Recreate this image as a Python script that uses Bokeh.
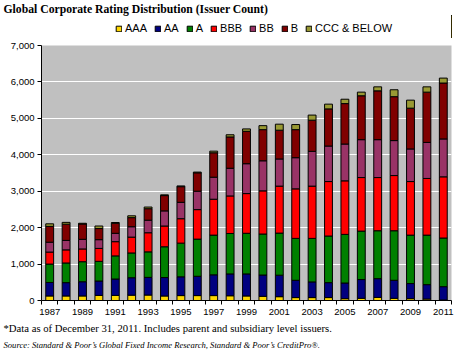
from bokeh.plotting import figure
from bokeh.layouts import column
from bokeh.models import (ColumnDataSource, Range1d, FixedTicker, NumeralTickFormatter,
                          Legend, LegendItem, Title)
from bokeh.embed import file_html
from bokeh.resources import INLINE

years = list(range(1987, 2012))
categories = ["AAA", "AA", "A", "BBB", "BB", "B", "CCC & BELOW"]

aaa = [125, 125, 125, 140, 140, 147, 150, 124, 135, 135, 135, 130, 125, 115, 105, 80, 80, 80, 50, 60, 85, 60, 50, 40, 15]
aa = [370, 365, 390, 395, 450, 478, 485, 506, 515, 530, 570, 600, 605, 585, 590, 475, 430, 410, 430, 515, 515, 495, 415, 395, 365]
a = [505, 540, 550, 540, 635, 680, 700, 845, 925, 1020, 1090, 1110, 1115, 1125, 1155, 1150, 1195, 1280, 1335, 1330, 1315, 1360, 1330, 1360, 1335]
bbb = [330, 360, 350, 355, 390, 435, 525, 570, 670, 810, 985, 1030, 1090, 1185, 1290, 1360, 1435, 1495, 1470, 1470, 1460, 1515, 1470, 1555, 1680]
bb = [270, 260, 265, 240, 230, 285, 345, 415, 450, 505, 605, 760, 820, 825, 745, 855, 955, 975, 1010, 1040, 1040, 960, 895, 990, 1040]
b = [435, 445, 420, 305, 275, 250, 315, 420, 430, 505, 670, 860, 890, 855, 790, 770, 855, 1020, 1110, 1205, 1340, 1205, 1120, 1380, 1535]
ccc = [70, 50, 20, 70, 20, 50, 45, 20, 20, 20, 45, 60, 65, 110, 165, 140, 140, 130, 120, 100, 110, 190, 220, 145, 135]

y_ticks = [0, 1000, 2000, 3000, 4000, 5000, 6000, 7000]
x_label_years = years[::2]

colors = ["#FFD700", "#000080", "#008000", "#FF0000", "#993366", "#800000", "#999933"]

title_text = "Global Corporate Rating Distribution (Issuer Count)"
foot_text = "*Data as of December 31, 2011. Includes parent and subsidiary level issuers."
source_text = ("Source: Standard & Poor\u2019s Global Fixed Income Research, "
               "Standard & Poor\u2019s CreditPro\u00ae.")

source = ColumnDataSource(data={
    "year": years,
    "AAA": aaa, "AA": aa, "A": a, "BBB": bbb, "BB": bb, "B": b, "CCC & BELOW": ccc,
})

LEFT, RIGHT = 41, 9

# ---------- header: title + legend ----------
HEADER_H = 38
header = figure(width=460, height=HEADER_H, output_backend="svg", toolbar_location=None,
                x_range=Range1d(0, 1), y_range=Range1d(0, 1),
                x_axis_type=None, y_axis_type=None,
                min_border_left=LEFT, min_border_right=RIGHT, min_border_top=0,
                min_border_bottom=0)
header.title = None
header.outline_line_color = None
header.background_fill_color = "white"
header.border_fill_color = "white"
header.xgrid.visible = False
header.ygrid.visible = False

# stacked renderers used only as legend keys (their bars fall outside this header's ranges)
legend_renderers = header.vbar_stack(categories, x="year", width=0.48, fill_color=colors,
                                     line_color="black", line_width=1, source=source)

header.add_layout(Title(text=title_text, align="left", offset=-38, standoff=0,
                        text_font="Liberation Serif", text_font_style="bold",
                        text_font_size="11.7px", text_color="black"), "above")

legend = Legend(items=[LegendItem(label=c, renderers=[r]) for c, r in zip(categories, legend_renderers)],
                orientation="horizontal", location=(74, 4),
                glyph_width=7, glyph_height=7, label_standoff=3, spacing=7,
                padding=0, margin=0, label_height=12, label_width=0,
                label_text_font="Liberation Sans", label_text_font_size="11px",
                label_text_color="black",
                border_line_color=None, background_fill_alpha=0)
header.add_layout(legend, "center")

# ---------- main chart ----------
p = figure(width=460, height=351 - HEADER_H, output_backend="svg", toolbar_location=None,
           x_range=Range1d(years[0] - 0.5, years[-1] + 0.5),
           y_range=Range1d(y_ticks[0], y_ticks[-1]),
           min_border_left=LEFT, min_border_right=RIGHT, min_border_top=45 - HEADER_H,
           min_border_bottom=51)
p.title = None
p.background_fill_color = "#C0C0C0"
p.border_fill_color = "white"
p.outline_line_color = None

p.vbar_stack(categories, x="year", width=0.48, fill_color=colors,
             line_color="black", line_width=1, source=source)

p.xaxis.ticker = FixedTicker(ticks=x_label_years,
                             minor_ticks=[y - 0.5 for y in years] + [years[-1] + 0.5])
p.xaxis.major_tick_out = 0
p.xaxis.major_tick_in = 0
p.xaxis.minor_tick_out = 4
p.xaxis.minor_tick_in = 0
p.xaxis.major_label_standoff = 4
p.xaxis.axis_line_color = "black"
p.xaxis.minor_tick_line_color = "black"
p.xaxis.major_label_text_font = "Liberation Sans"
p.xaxis.major_label_text_font_size = "9.5px"
p.xaxis.major_label_text_color = "black"

p.yaxis.ticker = FixedTicker(ticks=y_ticks, minor_ticks=[])
p.yaxis.formatter = NumeralTickFormatter(format="0,0")
p.yaxis.major_tick_out = 4
p.yaxis.major_tick_in = 0
p.yaxis.minor_tick_out = 0
p.yaxis.minor_tick_in = 0
p.yaxis.major_label_standoff = 3
p.yaxis.axis_line_color = "black"
p.yaxis.major_label_text_font = "Liberation Sans"
p.yaxis.major_label_text_font_size = "9.5px"
p.yaxis.major_label_text_color = "black"

p.xgrid.visible = False
p.ygrid.grid_line_color = "white"
p.ygrid.grid_line_width = 1

foot = Title(text=foot_text, align="left", offset=-38, standoff=5,
             text_font="Liberation Serif", text_font_style="normal",
             text_font_size="10.7px", text_color="black")
p.add_layout(foot, "below")
src = Title(text=source_text, align="left", offset=-38, standoff=2,
            text_font="Liberation Serif", text_font_style="italic",
            text_font_size="8.6px", text_color="black")
p.add_layout(src, "below")

layout = column(header, p, spacing=0)
open("out.html", "w").write(file_html(layout, INLINE))
